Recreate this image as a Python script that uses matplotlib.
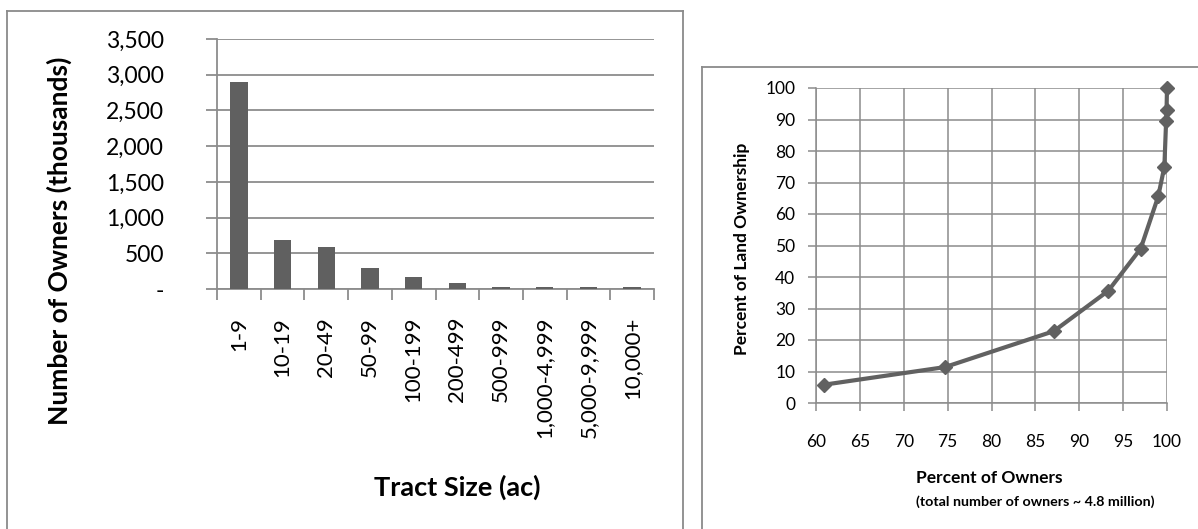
import numpy as np
import matplotlib
matplotlib.use("Agg")
import matplotlib.pyplot as plt
from matplotlib.lines import Line2D
from matplotlib.ticker import FuncFormatter, MultipleLocator, FixedLocator

plt.rcParams['font.family'] = ['Lato', 'DejaVu Sans']

# left chart: owners by tract size
tract_sizes = ['1-9', '10-19', '20-49', '50-99', '100-199', '200-499',
               '500-999', '1,000-4,999', '5,000-9,999', '10,000+']
owners_k = [2900, 680, 595, 290, 175, 90, 35, 35, 33, 33]
owner_ticks = [0, 500, 1000, 1500, 2000, 2500, 3000, 3500]

# right chart: cumulative ownership curve
pct_owners = [60.9, 74.7, 87.1, 93.3, 97.0, 99.0, 99.7, 99.9, 99.95, 100.0]
pct_land = [5.8, 11.4, 22.8, 35.6, 49.0, 65.6, 75.0, 89.6, 93.1, 100.0]

bar_col = '#606060'
grid_col = '#8c8c8c'
frame_col = '#8a8a8a'

W, H = 1198, 529
fig = plt.figure(figsize=(W / 100, H / 100), dpi=100)


def fx(px):
    return px / W


def fy(py):
    return 1 - py / H


# chart borders (Excel chart areas)
for xs, ys in [((7, 7), (529, 11)), ((7, 683), (11, 11)), ((683, 683), (11, 529)),
               ((702, 702), (529, 67)), ((702, 1198), (67, 67))]:
    fig.add_artist(Line2D([fx(xs[0]), fx(xs[1])], [fy(ys[0]), fy(ys[1])],
                          color=frame_col, lw=1.3))

# ---- bar chart ----
ax1 = fig.add_axes([fx(217), fy(289), fx(654 - 217), (289 - 39) / H])
x = np.arange(len(tract_sizes))
ax1.bar(x, owners_k, width=0.4, color=bar_col, zorder=3)
ax1.set_xlim(-0.5, len(tract_sizes) - 0.5)
ax1.set_ylim(0, 3500)
ax1.set_yticks(owner_ticks)
ax1.yaxis.set_major_formatter(FuncFormatter(lambda v, p: '-' if v == 0 else f'{int(v):,}'))
ax1.grid(axis='y', color=grid_col, lw=1.3, zorder=0)
ax1.xaxis.set_major_locator(FixedLocator(np.arange(-0.5, len(tract_sizes), 1.0)))
ax1.xaxis.set_major_formatter(FuncFormatter(lambda v, p: ''))
ax1.xaxis.set_minor_locator(FixedLocator(x))
ax1.set_xticklabels(tract_sizes, minor=True, rotation=90, fontsize=16)
ax1.tick_params(axis='x', which='minor', length=0, pad=20)
ax1.tick_params(axis='x', which='major', length=8, width=1.3, color=grid_col)
ax1.tick_params(axis='y', length=8, width=1.3, color=grid_col, labelsize=16.5, pad=30)
for s in ['top', 'right']:
    ax1.spines[s].set_visible(False)
for s in ['left', 'bottom']:
    ax1.spines[s].set_color(grid_col)
    ax1.spines[s].set_linewidth(1.3)
fig.text(fx(59), fy(241), 'Number of Owners (thousands)', rotation=90, fontsize=19,
         fontweight='bold', ha='center', va='center')
fig.text(fx(457), fy(487), 'Tract Size (ac)', fontsize=19.5, fontweight='bold',
         ha='center', va='center')

# ---- cumulative curve ----
ax2 = fig.add_axes([fx(816), fy(403), fx(1167 - 816), (403 - 88) / H])
ax2.plot(pct_owners, pct_land, color='#616161', lw=3, marker='D', markersize=7.5,
         zorder=3, clip_on=False)
ax2.set_xlim(60, 100)
ax2.set_ylim(0, 100)
ax2.xaxis.set_major_locator(MultipleLocator(5))
ax2.yaxis.set_major_locator(MultipleLocator(10))
ax2.grid(color=grid_col, lw=1.1, zorder=0)
ax2.tick_params(length=6, width=1.1, color=grid_col, labelsize=12.5)
ax2.tick_params(axis='x', pad=16)
ax2.tick_params(axis='y', pad=9)
for s in ['top', 'right']:
    ax2.spines[s].set_visible(False)
for s in ['left', 'bottom']:
    ax2.spines[s].set_color(grid_col)
    ax2.spines[s].set_linewidth(1.1)
fig.text(fx(742), fy(249), 'Percent of Land Ownership', rotation=90, fontsize=12.5,
         fontweight='bold', ha='center', va='center')
fig.text(fx(916), fy(478), 'Percent of Owners', fontsize=12.5, fontweight='bold',
         ha='left', va='center')
fig.text(fx(916), fy(502), '(total number of owners ~ 4.8 million)', fontsize=10.3,
         fontweight='bold', ha='left', va='center')

fig.savefig('out.png', dpi=100)
